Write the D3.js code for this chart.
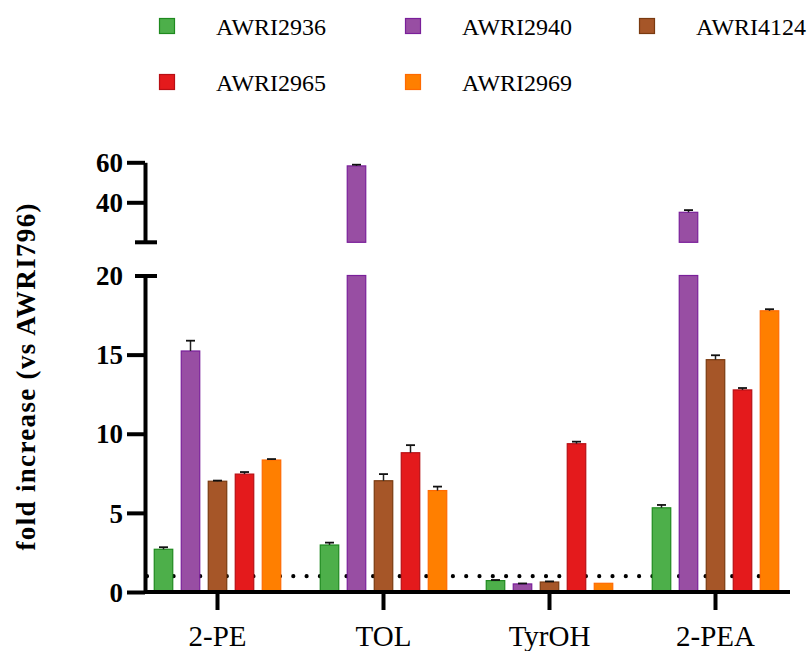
<!DOCTYPE html>
<html lang="en">
  <head>
    <meta charset="utf-8">
    <title>Fold increase vs AWRI796</title>
    <script src="https://d3js.org/d3.v7.js"></script>
    <style>
    body {margin: 0; background: white;}
    svg text {font-family: "Liberation Serif", "DejaVu Serif", serif; fill: #000;}
    .axis path, .axis line {stroke: #000; stroke-width: 4;}
    .tick-label {font-size: 27px; font-weight: bold;}
    .cat-label {font-size: 29px;}
    .legend-label {font-size: 24px;}
    </style>
  </head>
  <body>
  <script>

  // data
  var categories = ["2-PE", "TOL", "TyrOH", "2-PEA"];
  var series = ["AWRI2936", "AWRI2940", "AWRI4124", "AWRI2965", "AWRI2969"];
  var colors = ["#4daf4a", "#984ea3", "#a65628", "#e41a1c", "#ff7f00"];
  var strokes = ["#1f8a1f", "#7a1f9a", "#7a3a10", "#b80f14", "#ff6a00"];

  // mean values per series, in category order
  var awri2936 = [2.70, 2.97, 0.72, 5.32];
  var awri2940 = [15.23, 58.2, 0.51, 35.0];
  var awri4124 = [7.00, 7.03, 0.63, 14.68];
  var awri2965 = [7.45, 8.80, 9.37, 12.77];
  var awri2969 = [8.34, 6.41, 0.55, 17.77];

  // error (upper bar only)
  var err2936 = [0.13, 0.15, 0.04, 0.18];
  var err2940 = [0.65, 0.6, 0.03, 1.1];
  var err4124 = [0.04, 0.42, 0.04, 0.28];
  var err2965 = [0.13, 0.48, 0.13, 0.12];
  var err2969 = [0.06, 0.25, 0.0, 0.1];

  var lowTicks = [0, 5, 10, 15, 20];
  var highTicks = [40, 60];
  var baseline = 1;

  var values = [awri2936, awri2940, awri4124, awri2965, awri2969];
  var errors = [err2936, err2940, err4124, err2965, err2969];

  var w = 811;
  var h = 651;
  var axisX = 145;
  var axisEnd = 790;
  var serif = "'Liberation Serif', 'DejaVu Serif', serif";

  var svg = d3.select("body")
      .append("svg")
      .attr("width", w)
      .attr("height", h);

  var data = [];
  series.forEach(function(s, i) {
    categories.forEach(function(c, j) {
      data.push({series: s, cat: c, value: values[i][j], err: errors[i][j], idx: i});
    });
  });

  // scales
  var x0 = d3.scaleBand()
      .domain(categories)
      .range([134.5, 798.5]);

  var x1 = d3.scaleBand()
      .domain(series)
      .range([-67.5, 67.5])
      .paddingInner(0.315)
      .paddingOuter(0.1575);

  var yLow = d3.scaleLinear()
      .domain([0, 20])
      .range([592, 275.5]);

  var yHigh = d3.scaleLinear()
      .domain([20, 60])
      .range([242.3, 162.3]);

  function barX(d) {
    return x0(d.cat) + x0.bandwidth() / 2 + x1(d.series);
  }
  function yAny(v) {
    return v <= 20 ? yLow(v) : yHigh(v);
  }

  // dotted reference line at 1
  svg.append("line")
     .attr("x1", axisX + 2)
     .attr("x2", axisEnd - 10)
     .attr("y1", yLow(baseline))
     .attr("y2", yLow(baseline))
     .attr("stroke", "#000")
     .attr("stroke-width", 4.2)
     .attr("stroke-linecap", "round")
     .attr("stroke-dasharray", "0,13.3");

  // bars, lower segment
  svg.selectAll(".bar-low")
     .data(data)
     .join("rect")
     .attr("class", "bar-low")
     .attr("x", barX)
     .attr("width", x1.bandwidth())
     .attr("y", d => yLow(Math.min(d.value, 20)))
     .attr("height", d => yLow(0) - yLow(Math.min(d.value, 20)))
     .attr("fill", d => colors[d.idx])
     .attr("stroke", d => strokes[d.idx])
     .attr("stroke-width", 1.2);

  // bars, upper segment
  svg.selectAll(".bar-high")
     .data(data.filter(d => d.value > 20))
     .join("rect")
     .attr("class", "bar-high")
     .attr("x", barX)
     .attr("width", x1.bandwidth())
     .attr("y", d => yHigh(d.value))
     .attr("height", d => yHigh(20) - yHigh(d.value))
     .attr("fill", d => colors[d.idx])
     .attr("stroke", d => strokes[d.idx])
     .attr("stroke-width", 1.2);

  // error bars
  var eb = svg.selectAll(".err")
     .data(data.filter(d => d.err > 0))
     .join("g")
     .attr("class", "err");
  eb.append("line")
     .attr("x1", d => barX(d) + x1.bandwidth() / 2)
     .attr("x2", d => barX(d) + x1.bandwidth() / 2)
     .attr("y1", d => yAny(d.value))
     .attr("y2", d => yAny(d.value + d.err))
     .attr("stroke", "#222")
     .attr("stroke-width", 1.5);
  eb.append("line")
     .attr("x1", d => barX(d) + x1.bandwidth() / 2 - 4.5)
     .attr("x2", d => barX(d) + x1.bandwidth() / 2 + 4.5)
     .attr("y1", d => yAny(d.value + d.err))
     .attr("y2", d => yAny(d.value + d.err))
     .attr("stroke", "#111")
     .attr("stroke-width", 1.8);

  // y axis, lower part
  var gLow = svg.append("g")
      .attr("class", "axis")
      .attr("transform", `translate(${axisX},0)`)
      .call(d3.axisLeft(yLow).tickValues(lowTicks).tickSize(18).tickSizeOuter(0).tickFormat(d3.format("d")));
  gLow.attr("font-family", serif).attr("font-size", 27);
  gLow.selectAll(".tick text")
      .attr("font-family", serif)
      .attr("font-weight", "bold")
      .attr("x", -22)
      .attr("dy", "0.34em");
  gLow.selectAll(".tick")
      .filter(d => d === 20)
      .select("line")
      .attr("x2", -10)
      .attr("x1", 12);

  // y axis, upper part
  var gHigh = svg.append("g")
      .attr("class", "axis")
      .attr("transform", `translate(${axisX},0)`)
      .call(d3.axisLeft(yHigh).tickValues(highTicks).tickSize(18).tickSizeOuter(0));
  gHigh.attr("font-family", serif).attr("font-size", 27);
  gHigh.selectAll(".tick text")
      .attr("font-family", serif)
      .attr("font-weight", "bold")
      .attr("x", -22)
      .attr("dy", "0.34em");
  gHigh.append("line")
      .attr("x1", -10)
      .attr("x2", 12)
      .attr("y1", yHigh(20))
      .attr("y2", yHigh(20));

  // x axis
  var gx = svg.append("g")
      .attr("class", "axis")
      .attr("transform", `translate(0,${yLow(0)})`)
      .call(d3.axisBottom(x0).tickSize(18).tickSizeOuter(0));
  gx.select(".domain").remove();
  gx.append("line")
      .attr("x1", axisX)
      .attr("x2", axisEnd)
      .attr("y1", 0)
      .attr("y2", 0);
  gx.attr("font-family", serif).attr("font-size", 29);
  gx.selectAll(".tick text")
      .attr("font-family", serif)
      .attr("y", 0)
      .attr("dy", null)
      .attr("transform", "translate(0,54)");

  // y title
  svg.append("text")
     .attr("transform", "translate(35,377) rotate(-90)")
     .attr("text-anchor", "middle")
     .attr("font-family", serif)
     .attr("font-size", 27)
     .attr("font-weight", "bold")
     .attr("textLength", 347)
     .attr("lengthAdjust", "spacing")
     .text("fold increase (vs AWRI796)");

  // legend
  var legendX = [159, 405, 639];
  var legendY = [26, 82];
  var leg = svg.selectAll(".legend")
     .data(series)
     .join("g")
     .attr("class", "legend")
     .attr("transform", (d, i) => `translate(${legendX[i % 3]},${legendY[Math.floor(i / 3)]})`);
  leg.append("rect")
     .attr("x", 0.5)
     .attr("y", -7.5)
     .attr("width", 15)
     .attr("height", 15)
     .attr("fill", (d, i) => colors[i])
     .attr("stroke", (d, i) => strokes[i])
     .attr("stroke-width", 1.2);
  leg.append("text")
     .attr("x", 57)
     .attr("y", 9)
     .attr("font-family", serif)
     .attr("font-size", 24)
     .text(d => d);

  </script>
  </body>
</html>
